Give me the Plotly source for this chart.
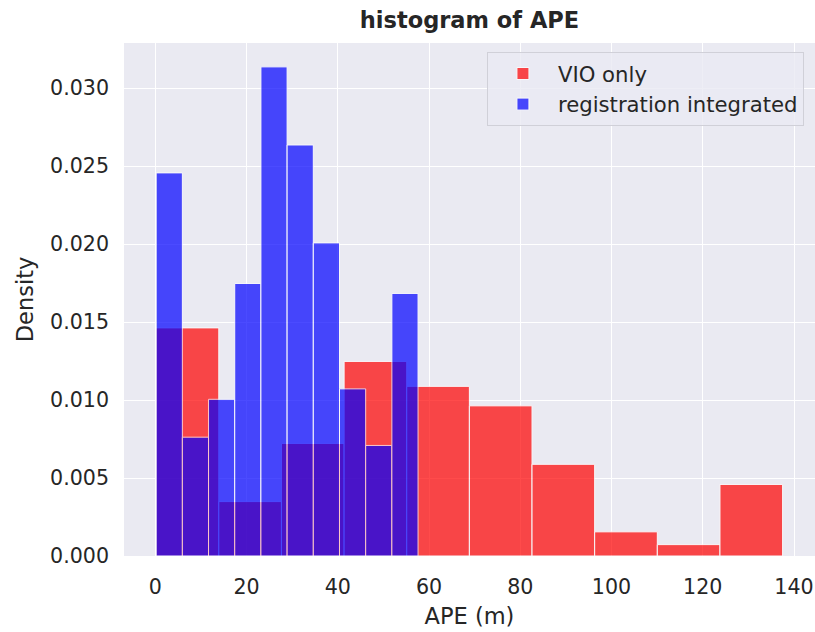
import plotly.graph_objects as go

# histogram data (density per bin)
vio_edges = [0.2, 13.93, 27.66, 41.39, 55.12, 68.85, 82.58, 96.31, 110.04, 123.77, 137.5]
vio_density = [0.01463, 0.00349, 0.00722, 0.01248, 0.01088, 0.00963, 0.00588, 0.00155, 0.00073, 0.00459]

reg_edges = [0.2, 5.94, 11.68, 17.42, 23.16, 28.9, 34.64, 40.38, 46.12, 51.86, 57.6]
reg_density = [0.02457, 0.00762, 0.01005, 0.01748, 0.03137, 0.02636, 0.02008, 0.01072, 0.00709, 0.01684]

x_ticks = [0, 20, 40, 60, 80, 100, 120, 140]
y_ticks = [0.0, 0.005, 0.010, 0.015, 0.020, 0.025, 0.030]


def centers(edges):
    return [(a + b) / 2 for a, b in zip(edges[:-1], edges[1:])]


def widths(edges):
    return [b - a for a, b in zip(edges[:-1], edges[1:])]


FONT = "DejaVu Sans"
TXT = "#262626"
TICK = 20.6
LAB = 22.5

fig = go.Figure()
fig.add_trace(go.Bar(
    x=centers(vio_edges), y=vio_density, width=widths(vio_edges),
    name="VIO only", opacity=0.7,
    marker=dict(color="rgb(255,0,0)", line=dict(color="white", width=1)),
))
fig.add_trace(go.Bar(
    x=centers(reg_edges), y=reg_density, width=widths(reg_edges),
    name="registration integrated", opacity=0.7,
    marker=dict(color="rgb(0,0,255)", line=dict(color="white", width=1)),
))

fig.update_layout(
    width=815, height=632,
    margin=dict(l=124, r=0, t=43, b=76, autoexpand=False),
    paper_bgcolor="white",
    plot_bgcolor="#EAEAF2",
    barmode="overlay",
    font=dict(family=FONT, size=TICK, color=TXT),
    title=dict(text="<b>histogram of APE</b>", x=(124 + 815) / 2 / 815, xanchor="center",
               y=1 - 20 / 632, yanchor="middle", yref="container", automargin=False,
               font=dict(family=FONT, size=LAB, color=TXT)),
    legend=dict(x=0.984, y=0.982, xanchor="right", yanchor="top",
                bgcolor="rgba(234,234,242,0.8)", bordercolor="#d0d0d8", borderwidth=1,
                font=dict(family=FONT, size=21.2, color=TXT),
                itemwidth=60),
    showlegend=True,
)

fig.update_xaxes(
    range=[-6.85, 144.6], tickvals=x_ticks, ticktext=[str(v) for v in x_ticks],
    showgrid=True, gridcolor="white", gridwidth=1.3, zeroline=False,
    showline=False, ticks="", ticklabelstandoff=16, automargin=False,
    tickfont=dict(family=FONT, size=TICK, color=TXT),
    title=dict(text="APE (m)", standoff=10, font=dict(family=FONT, size=LAB, color=TXT)),
)
fig.update_yaxes(
    range=[0, 0.0329], tickvals=y_ticks, ticktext=[f"{v:.3f}" for v in y_ticks],
    showgrid=True, gridcolor="white", gridwidth=1.3, zeroline=False,
    showline=False, ticks="", ticklabelstandoff=14, automargin=False,
    tickfont=dict(family=FONT, size=TICK, color=TXT),
    title=dict(text="Density", standoff=10, font=dict(family=FONT, size=LAB, color=TXT)),
)

fig.write_html("out.html", config={"displayModeBar": False},
               post_script="document.body.style.margin='0';")
